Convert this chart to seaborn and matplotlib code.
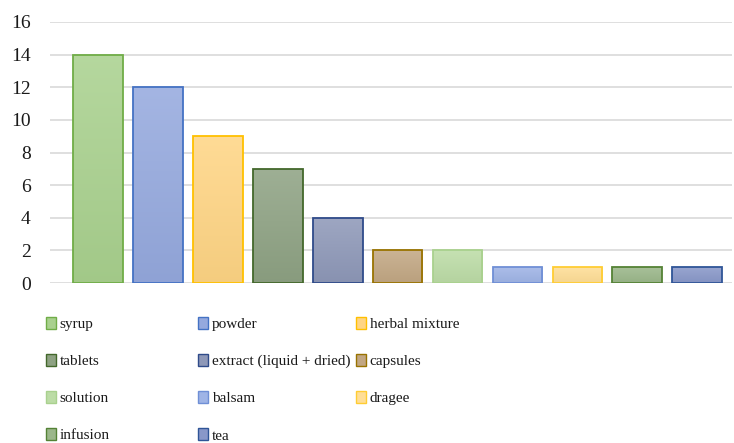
import numpy as np
import pandas as pd
import matplotlib
matplotlib.use("Agg")
import matplotlib.pyplot as plt
from matplotlib.patches import Patch
from matplotlib.colors import to_rgb
import seaborn as sns

# Dosage forms and number of products of each form
forms = ["syrup", "powder", "herbal mixture", "tablets", "extract (liquid + dried)",
         "capsules", "solution", "balsam", "dragee", "infusion", "tea"]
counts = [14, 12, 9, 7, 4, 2, 2, 1, 1, 1, 1]
y_ticks = [0, 2, 4, 6, 8, 10, 12, 14, 16]

fills = ["#a9d18e", "#95a9de", "#ffd584", "#8ea283", "#8e98b8", "#c2a783",
         "#bcdca6", "#9fb4e6", "#ffde96", "#9bb78a", "#8998c9"]
edges = ["#70ad47", "#4472c4", "#ffc000", "#43682b", "#2f4b8a", "#997300",
         "#a9d18e", "#6f8fd6", "#ffcd33", "#548235", "#2f5597"]

sns.set_theme(style="white")
plt.rcParams["font.family"] = ["Liberation Serif", "DejaVu Serif"]

df = pd.DataFrame({"form": forms, "count": counts})

fig = plt.figure(figsize=(7.34, 4.43), dpi=100)
ax = fig.add_axes([50 / 734, 1 - 283 / 443, 682 / 734, 261 / 443])

sns.barplot(data=df, x="form", y="count", hue="form", order=forms, hue_order=forms,
            palette=dict(zip(forms, fills)), dodge=False, width=0.83,
            legend=False, ax=ax, zorder=2)

# outline each bar and give it a soft vertical gradient (lighter at the top)
bars = [c.patches[0] for c in ax.containers]
for bar, fc, ec in zip(bars, fills, edges):
    bar.set_edgecolor(ec)
    bar.set_linewidth(1.3)
    x0, y0 = bar.get_x(), bar.get_y()
    w, h = bar.get_width(), bar.get_height()
    base = np.array(to_rgb(fc))
    top = base + (1 - base) * 0.14
    bot = base * 0.96
    t = np.linspace(0, 1, 64)[:, None, None]
    grad = top * (1 - t) + bot * t
    im = ax.imshow(grad, extent=(x0, x0 + w, y0, y0 + h), origin="upper",
                   aspect="auto", zorder=1.9, interpolation="bilinear")
    im.set_clip_path(bar)
    bar.set_facecolor("none")

ax.set_ylim(0, 16)
ax.set_xlim(-0.8, 10.58)
ax.set_yticks(y_ticks)
ax.set_yticklabels([str(v) for v in y_ticks], fontsize=14, color="#1a1a1a")
ax.set_xticks([])
ax.set_xlabel("")
ax.set_ylabel("")
ax.tick_params(axis="y", length=0, pad=14)
ax.grid(axis="y", color="#d9d9d9", linewidth=1.2)
ax.set_axisbelow(True)
for s in ax.spines.values():
    s.set_visible(False)

# legend laid out in three fixed columns, filled row by row
handles = [Patch(facecolor=fc, edgecolor=ec, linewidth=1.0) for fc, ec in zip(fills, edges)]
col_x = [46 / 734, 198 / 734, 356 / 734]
for ci, cx in enumerate(col_x):
    idx = list(range(ci, len(forms), 3))
    fig.legend([handles[i] for i in idx], [forms[i] for i in idx],
               loc="upper left", bbox_to_anchor=(cx, 1 - 317 / 443),
               frameon=False, fontsize=11, handlelength=0.65, handleheight=0.8,
               handletextpad=0.25, labelspacing=1.5, borderpad=0, borderaxespad=0,
               labelcolor="#1a1a1a")

fig.savefig("out.png", dpi=100, facecolor="white")
